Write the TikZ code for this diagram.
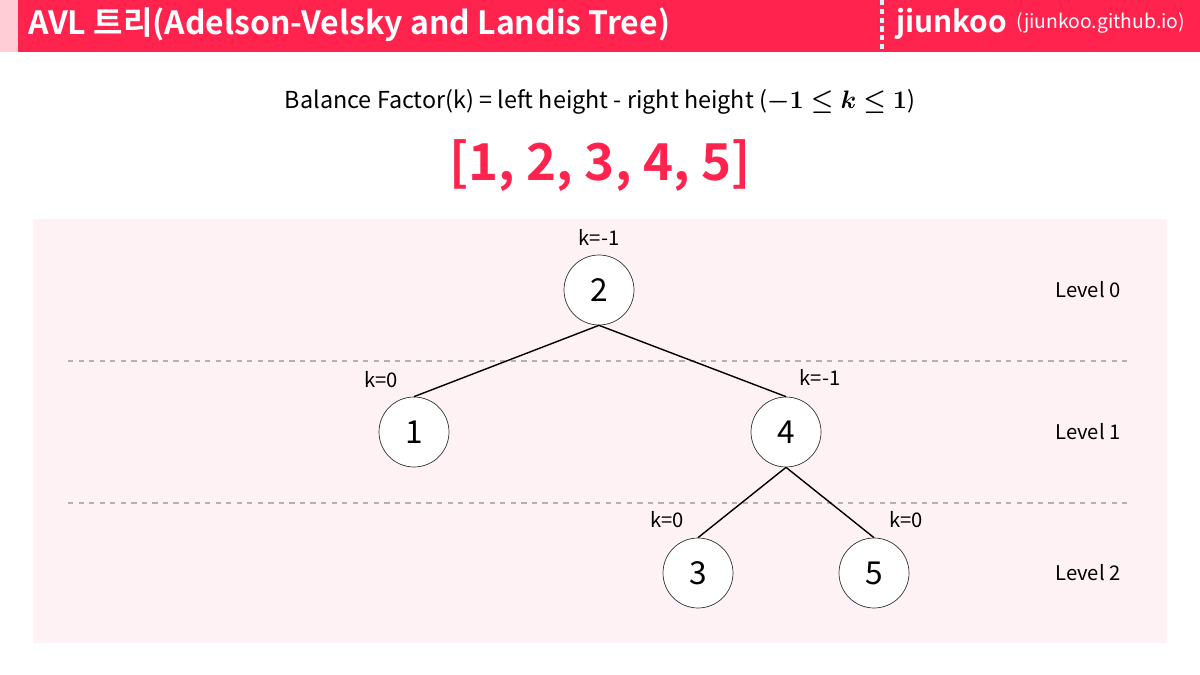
\documentclass[tikz,border=0pt]{standalone}
\usepackage{amsmath}
\usepackage{bm}
\usepackage{fontspec}
\setmainfont{Noto Sans CJK KR}[BoldFont={Noto Sans CJK KR Bold}]
\usepackage{tikz}
\usetikzlibrary{positioning}
\usepackage{xcolor}
\definecolor{avlred}{RGB}{255,35,78}
\definecolor{avlpink}{RGB}{255,205,214}
\definecolor{panel}{RGB}{255,242,244}

\begin{document}
\begin{tikzpicture}[
  x=0.02cm, y=-0.02cm,
  vertex/.style={circle, draw=black!80, thin, fill=white,
                 minimum size=1.4cm, inner sep=0pt, font=\fontsize{18}{18}\selectfont},
  edge/.style={thick, black},
  bf/.style={font=\fontsize{11.5}{13}\selectfont},
  lvl/.style={font=\fontsize{11.5}{13}\selectfont},
  guide/.style={dashed, black!30, thick}
]

% background and header
\useasboundingbox (0,0) rectangle (1200,675);
\fill[white] (0,0) rectangle (1200,675);
\fill[avlpink] (0,0) rectangle (18,52);
\fill[avlred] (18,0) rectangle (1200,52);
\draw[white!85!cyan, line width=2pt, dash pattern=on 3pt off 2pt] (882,0) -- (882,52);
\node[anchor=west, text=white, font=\bfseries\fontsize{18.2}{18}\selectfont] (title) at (22,25)
  {AVL 트리(Adelson-Velsky and Landis Tree)};
\node[anchor=west, text=white, font=\bfseries\fontsize{17}{17}\selectfont] (brand) at (890,24) {jiunkoo};
\node[right=-2pt of brand, text=white, font=\fontsize{11}{11}\selectfont, yshift=0.5pt] (site) {(jiunkoo.github.io)};

% formula and input
\node[font=\fontsize{13.3}{15}\selectfont] (factor) at (600,102)
  {Balance Factor(k) = left height - right height ($\bm{-1 \le k \le 1}$)};
\node[text=avlred, font=\bfseries\fontsize{29}{29}\selectfont] (input) at (600,165) {[1, 2, 3, 4, 5]};

% panel
\fill[panel] (33,219) rectangle (1167,643);
\draw[guide] (68,361) -- (1131,361);
\draw[guide] (68,503) -- (1131,503);

% tree
\node[vertex] (n2) at (599,290) {2};
\node[vertex] (n1) at (414,432) {1};
\node[vertex] (n4) at (786,432) {4};
\node[vertex] (n3) at (698,573) {3};
\node[vertex] (n5) at (874,573) {5};

\draw[edge] (n2.south) -- (n1.north);
\draw[edge] (n2.south) -- (n4.north);
\draw[edge] (n4.south) -- (n3.north);
\draw[edge] (n4.south) -- (n5.north);

% balance factors
\node[bf] (k2) at (599,237) {k=-1};
\node[bf] (k1) at (381,380) {k=0};
\node[bf] (k4) at (820,377) {k=-1};
\node[bf] (k3) at (667,520) {k=0};
\node[bf] (k5) at (906,520) {k=0};

% levels
\node[lvl] (l0) at (1088,290) {Level 0};
\node[lvl] (l1) at (1088,432) {Level 1};
\node[lvl] (l2) at (1088,573) {Level 2};

\end{tikzpicture}
\end{document}
